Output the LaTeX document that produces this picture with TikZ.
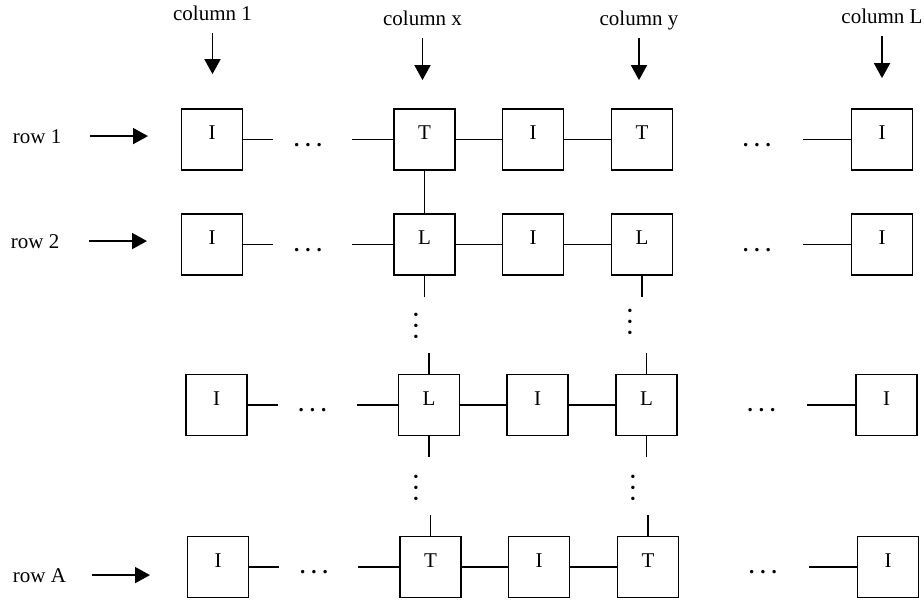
\documentclass[tikz,border=0pt]{standalone}
\usepackage{fontspec}
\setmainfont{Liberation Serif}
\usetikzlibrary{arrows.meta}
\newcommand{\rowdots}{\textbf{.\kern3pt.\kern3pt.}}

\begin{document}
\begin{tikzpicture}[x=0.5pt, y=-0.5pt, line width=0.9pt, font=\fontsize{10.5}{12}\selectfont]
          \tikzstyle{cell}=[draw, minimum size=30.5pt, inner sep=0pt, text height=3.5pt, text depth=3.5pt]
          \tikzstyle{tag}=[inner sep=0pt, text depth=0pt]
          \tikzstyle{gap}=[inner sep=0pt, rotate=90]
          \tikzstyle{arr}=[-{Triangle[width=8pt,length=7.5pt]}]
          \useasboundingbox (0,0) rectangle (924,600);
          % rows of cells
          \foreach \r/\ypos/\dx/\k in {1/139.5/0/T, 2/244.5/0/L, 3/405/4.5/L, 4/567/6/T} {
              \node[cell] (b\r1) at (212+\dx,\ypos) {I};
              \node[cell] (b\r2) at (424.5+\dx,\ypos) {\k};
              \node[cell] (b\r3) at (533+\dx,\ypos) {I};
              \node[cell] (b\r4) at (642+\dx,\ypos) {\k};
              \node[cell] (b\r5) at (882+\dx,\ypos) {I};
              \coordinate (e\r) at ([xshift=15pt]b\r1.east);
              \coordinate (w\r) at ([xshift=-20.5pt]b\r2.west);
              \coordinate (v\r) at ([xshift=-24pt]b\r5.west);
              \draw (b\r1.east) -- (e\r);
              \draw (w\r) -- (b\r2.west);
              \draw (b\r2) -- (b\r3);
              \draw (b\r3) -- (b\r4);
              \draw (v\r) -- (b\r5.west);
              \node[anchor=base] (dl\r) at ([xshift=48pt,yshift=-3.25pt]b\r1) {\rowdots};
              \node[anchor=base] (dr\r) at ([xshift=-62.5pt,yshift=-3.25pt]b\r5) {\rowdots};
          }
          % vertical links
          \draw (b12) -- (b22);
          \foreach \n/\a/\s in {22/south/-10.5pt, 24/south/-10.5pt, 32/north/10.5pt, 32/south/-10.5pt,
                                34/north/10.5pt, 34/south/-10.5pt, 42/north/10.5pt, 44/north/10.5pt} {
              \coordinate (s\n\a) at ([yshift=\s]b\n.\a);
              \draw (b\n.\a) -- (s\n\a);
          }
          \node[gap] (vx1) at (416,326) {\rowdots};
          \node[gap] (vy1) at (630,322) {\rowdots};
          \node[gap] (vx2) at (416,488) {\rowdots};
          \node[gap] (vy2) at (633,488) {\rowdots};
          % column labels
          \foreach \c/\x/\yb/\txt/\gap in {1/212.5/20/1/17pt, 2/422.5/25/x/14pt, 4/639/25/y/14pt, 5/882/23/L/15pt} {
              \node[tag, anchor=base] (c\c) at (\x,\yb) {column \txt};
              \draw[arr, shorten <=6pt, shorten >=\gap] (c\c.south) -- (c\c.south |- b1\c.north);
          }
          % row labels
          \foreach \r/\yb/\txt/\xa/\sa/\sb in {1/143/1/12/13.8pt/16.3pt, 2/248/2/10/14.3pt/16.8pt, 4/582/A/12/12.5pt/18.3pt} {
              \node[tag, anchor=base west] (r\r) at (\xa,\yb) {row \txt};
              \draw[arr, shorten <=\sa, shorten >=\sb] (r\r.east) -- (r\r.east -| b\r1.west);
          }
      \end{tikzpicture}
\end{document}
